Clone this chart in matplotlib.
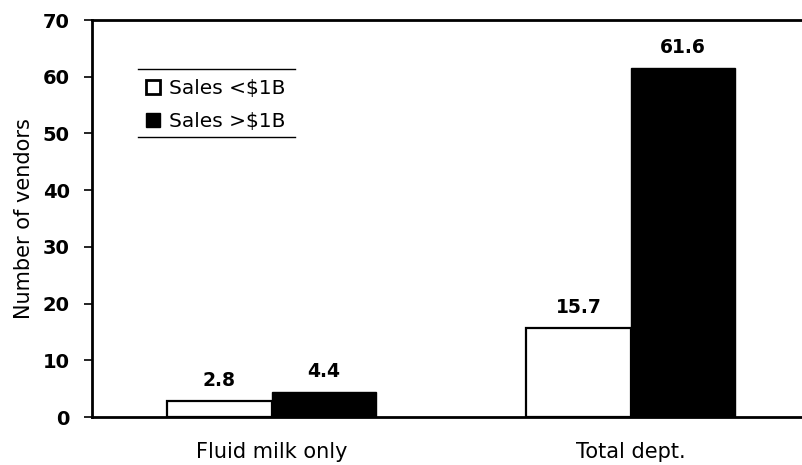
import matplotlib
matplotlib.use("Agg")
import matplotlib.pyplot as plt
from matplotlib.lines import Line2D
import numpy as np

categories = ["Fluid milk only", "Total dept."]
series_names = ["Sales <$1B", "Sales >$1B"]
small_sales = [2.8, 15.7]
large_sales = [4.4, 61.6]
value_labels_small = ["2.8", "15.7"]
value_labels_large = ["4.4", "61.6"]
yticks = [0, 10, 20, 30, 40, 50, 60, 70]

plt.rcParams['font.family'] = ['DejaVu Sans']

fig = plt.figure(figsize=(8.03, 4.65), dpi=100)
ax = fig.add_axes([92/803, 48/465, (803-92)/803, (417-20)/465])

x = np.arange(len(categories))
w = 0.29
b1 = ax.bar(x - w/2, small_sales, w, color="white", edgecolor="black", linewidth=1.6, label=series_names[0])
b2 = ax.bar(x + w/2, large_sales, w, color="black", edgecolor="black", linewidth=1.0, label=series_names[1])

for rect, lab in zip(b1, value_labels_small):
    ax.annotate(lab, (rect.get_x() + rect.get_width()/2, rect.get_height()),
                xytext=(0, 8), textcoords="offset points", ha="center", va="bottom",
                fontsize=13.5, fontweight="bold")
for rect, lab in zip(b2, value_labels_large):
    ax.annotate(lab, (rect.get_x() + rect.get_width()/2, rect.get_height()),
                xytext=(0, 8), textcoords="offset points", ha="center", va="bottom",
                fontsize=13.5, fontweight="bold")

ax.set_xlim(-0.5, 1.48)
ax.set_ylim(0, 70)
ax.set_yticks(yticks)
ax.set_yticklabels([str(t) for t in yticks], fontsize=14, fontweight="bold")
ax.set_xticks(x)
ax.set_xticklabels(categories, fontsize=15)
ax.tick_params(axis="x", length=0, pad=18)
ax.tick_params(axis="y", length=6, width=1.2, direction="out", pad=10)
ax.set_ylabel("Number of vendors", fontsize=15, labelpad=6)

for s in ["left", "bottom", "top"]:
    ax.spines[s].set_linewidth(2)
ax.spines["right"].set_visible(False)

handles = [
    Line2D([], [], marker="s", linestyle="none", markersize=10, markerfacecolor="white",
           markeredgecolor="black", markeredgewidth=2),
    Line2D([], [], marker="s", linestyle="none", markersize=10, markerfacecolor="black",
           markeredgecolor="black"),
]
leg = ax.legend(handles, series_names, loc="center left", bbox_to_anchor=(0.063, 0.785),
                frameon=False, fontsize=14.5, handlelength=0.8, handletextpad=0.4,
                labelspacing=0.7, borderaxespad=0)

# top and bottom rules of the legend box
ax.plot([(138-92)/711, (295-92)/711], [(417-69)/397]*2, color="black", lw=1.0,
        transform=ax.transAxes, clip_on=False)
ax.plot([(138-92)/711, (295-92)/711], [(417-137)/397]*2, color="black", lw=1.0,
        transform=ax.transAxes, clip_on=False)

fig.savefig("out.png", dpi=100)
